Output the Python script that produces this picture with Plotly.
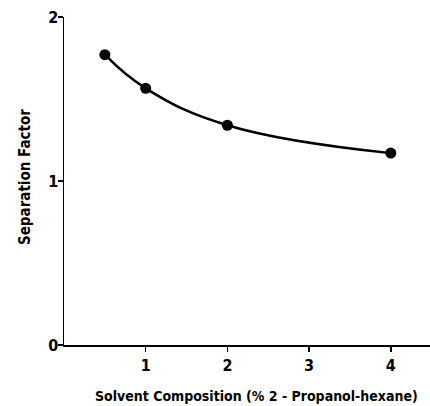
import plotly.graph_objects as go

solvent_pct = [0.5, 1.0, 2.0, 4.0]
separation_factor = [1.77, 1.565, 1.34, 1.17]
x_ticks = [1, 2, 3, 4]
y_ticks = [0, 1, 2]
x_title = "Solvent Composition (% 2 - Propanol-hexane)"
y_title = "Separation Factor"

FONT = "DejaVu Sans Condensed"
W, H = 430, 406
ML, MR, MT, MB = 64, 0, 17, 61

fig = go.Figure()
fig.add_trace(go.Scatter(
    x=solvent_pct, y=separation_factor,
    mode="lines+markers",
    line=dict(color="black", width=2.5, shape="spline", smoothing=1.2),
    marker=dict(color="black", size=11),
    showlegend=False,
))

fig.update_layout(
    width=W, height=H,
    margin=dict(l=ML, r=MR, t=MT, b=MB, autoexpand=False),
    paper_bgcolor="white", plot_bgcolor="white",
    font=dict(family=FONT, color="black", size=14, weight="bold"),
)
fig.update_xaxes(
    range=[0, 4.48], tickvals=x_ticks, ticktext=[str(v) for v in x_ticks],
    showline=True, linecolor="black", linewidth=1.5,
    ticks="outside", ticklen=5, tickwidth=1.5, tickcolor="black",
    showgrid=False, zeroline=False, automargin=False,
    tickfont=dict(size=16, family=FONT, weight="bold"),
)
fig.update_yaxes(
    range=[0, 2], tickvals=y_ticks, ticktext=[str(v) for v in y_ticks],
    showline=True, linecolor="black", linewidth=1.5,
    ticks="outside", ticklen=5, tickwidth=1.5, tickcolor="black",
    showgrid=False, zeroline=False, automargin=False,
    ticklabelstandoff=-4,
    tickfont=dict(size=16, family=FONT, weight="bold"),
)
# axis titles placed to match the original figure
fig.add_annotation(
    text=x_title, xref="paper", yref="paper",
    x=(256 - ML) / (W - ML - MR), y=-(396 - (H - MB)) / (H - MT - MB),
    xanchor="center", yanchor="middle", showarrow=False,
    font=dict(size=14, family=FONT, weight="bold", color="black"),
)
fig.add_annotation(
    text=y_title, xref="paper", yref="paper",
    x=-(ML - 25) / (W - ML - MR), y=(H - MB - 177) / (H - MT - MB),
    xanchor="center", yanchor="middle", textangle=-90, showarrow=False,
    font=dict(size=15, family=FONT, weight="bold", color="black"),
)

fig.write_html(
    "out.html",
    config={"displayModeBar": False, "staticPlot": True},
    post_script="document.body.style.margin='0';document.body.style.overflow='hidden';",
)
